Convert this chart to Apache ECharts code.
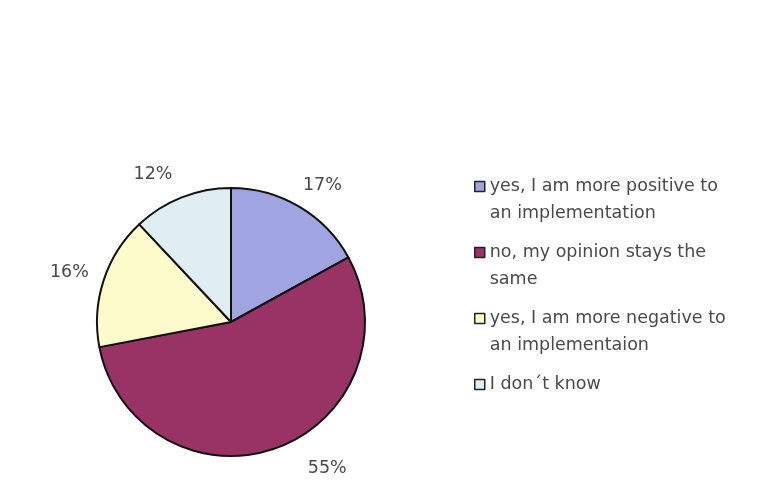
<!DOCTYPE html>
<html><head><meta charset="utf-8">
<script src="https://cdn.jsdelivr.net/npm/echarts@6/dist/echarts.min.js"></script>
<style>html,body{margin:0;padding:0;background:#fff}#c{width:765px;height:488px}</style>
</head><body><div id="c"></div>
<script>
const categories = [
  "yes, I am more positive to an implementation",
  "no, my opinion stays the same",
  "yes, I am more negative to an implementaion",
  "I don´t know"
];
const legendLines = [
  "yes, I am more positive to\nan implementation",
  "no, my opinion stays the\nsame",
  "yes, I am more negative to\nan implementaion",
  "I don´t know\n "
];
const values = [17, 55, 16, 12];
const colors = ["#a0a5e1", "#993366", "#fdfbcc", "#e0eef3"];

const L = 27;
const FONT = 'DejaVu Sans, Liberation Sans, sans-serif';
const chart = echarts.init(document.getElementById('c'), null, {renderer: 'canvas'});
chart.setOption({
  animation: false,
  backgroundColor: '#ffffff',
  color: colors,
  legend: {
    orient: 'vertical',
    left: 474,
    top: 146,
    padding: 0,
    itemWidth: 10,
    itemHeight: 10,
    itemGap: -15,
    icon: 'rect',
    selectedMode: false,
    itemStyle: {borderColor: '#222', borderWidth: 1.5},
    textStyle: {fontFamily: FONT, fontSize: 17.5, color: '#4a4a4a', lineHeight: L},
    formatter: function (name) { return '\n' + legendLines[categories.indexOf(name)]; },
    data: categories
  },
  series: [{
    type: 'pie',
    center: [231, 322],
    radius: 134,
    startAngle: 90,
    clockwise: true,
    avoidLabelOverlap: false,
    itemStyle: {borderColor: '#111', borderWidth: 2},
    label: {
      show: true,
      position: 'outside',
      formatter: '{c}%',
      fontFamily: FONT,
      fontSize: 17.5,
      color: '#4a4a4a',
      distanceToLabelLine: 0
    },
    labelLine: {show: false, length: 25, length2: 0},
    emphasis: {disabled: true},
    data: categories.map(function (n, i) {
      const d = {name: n, value: values[i]};
      if (i === 0) d.labelLine = {show: false, length: 25, length2: -9};
      if (i === 1) d.labelLine = {show: false, length: 22, length2: 24};
      if (i === 2) d.labelLine = {show: false, length: 25, length2: -9};
      return d;
    })
  }]
});
</script></body></html>
